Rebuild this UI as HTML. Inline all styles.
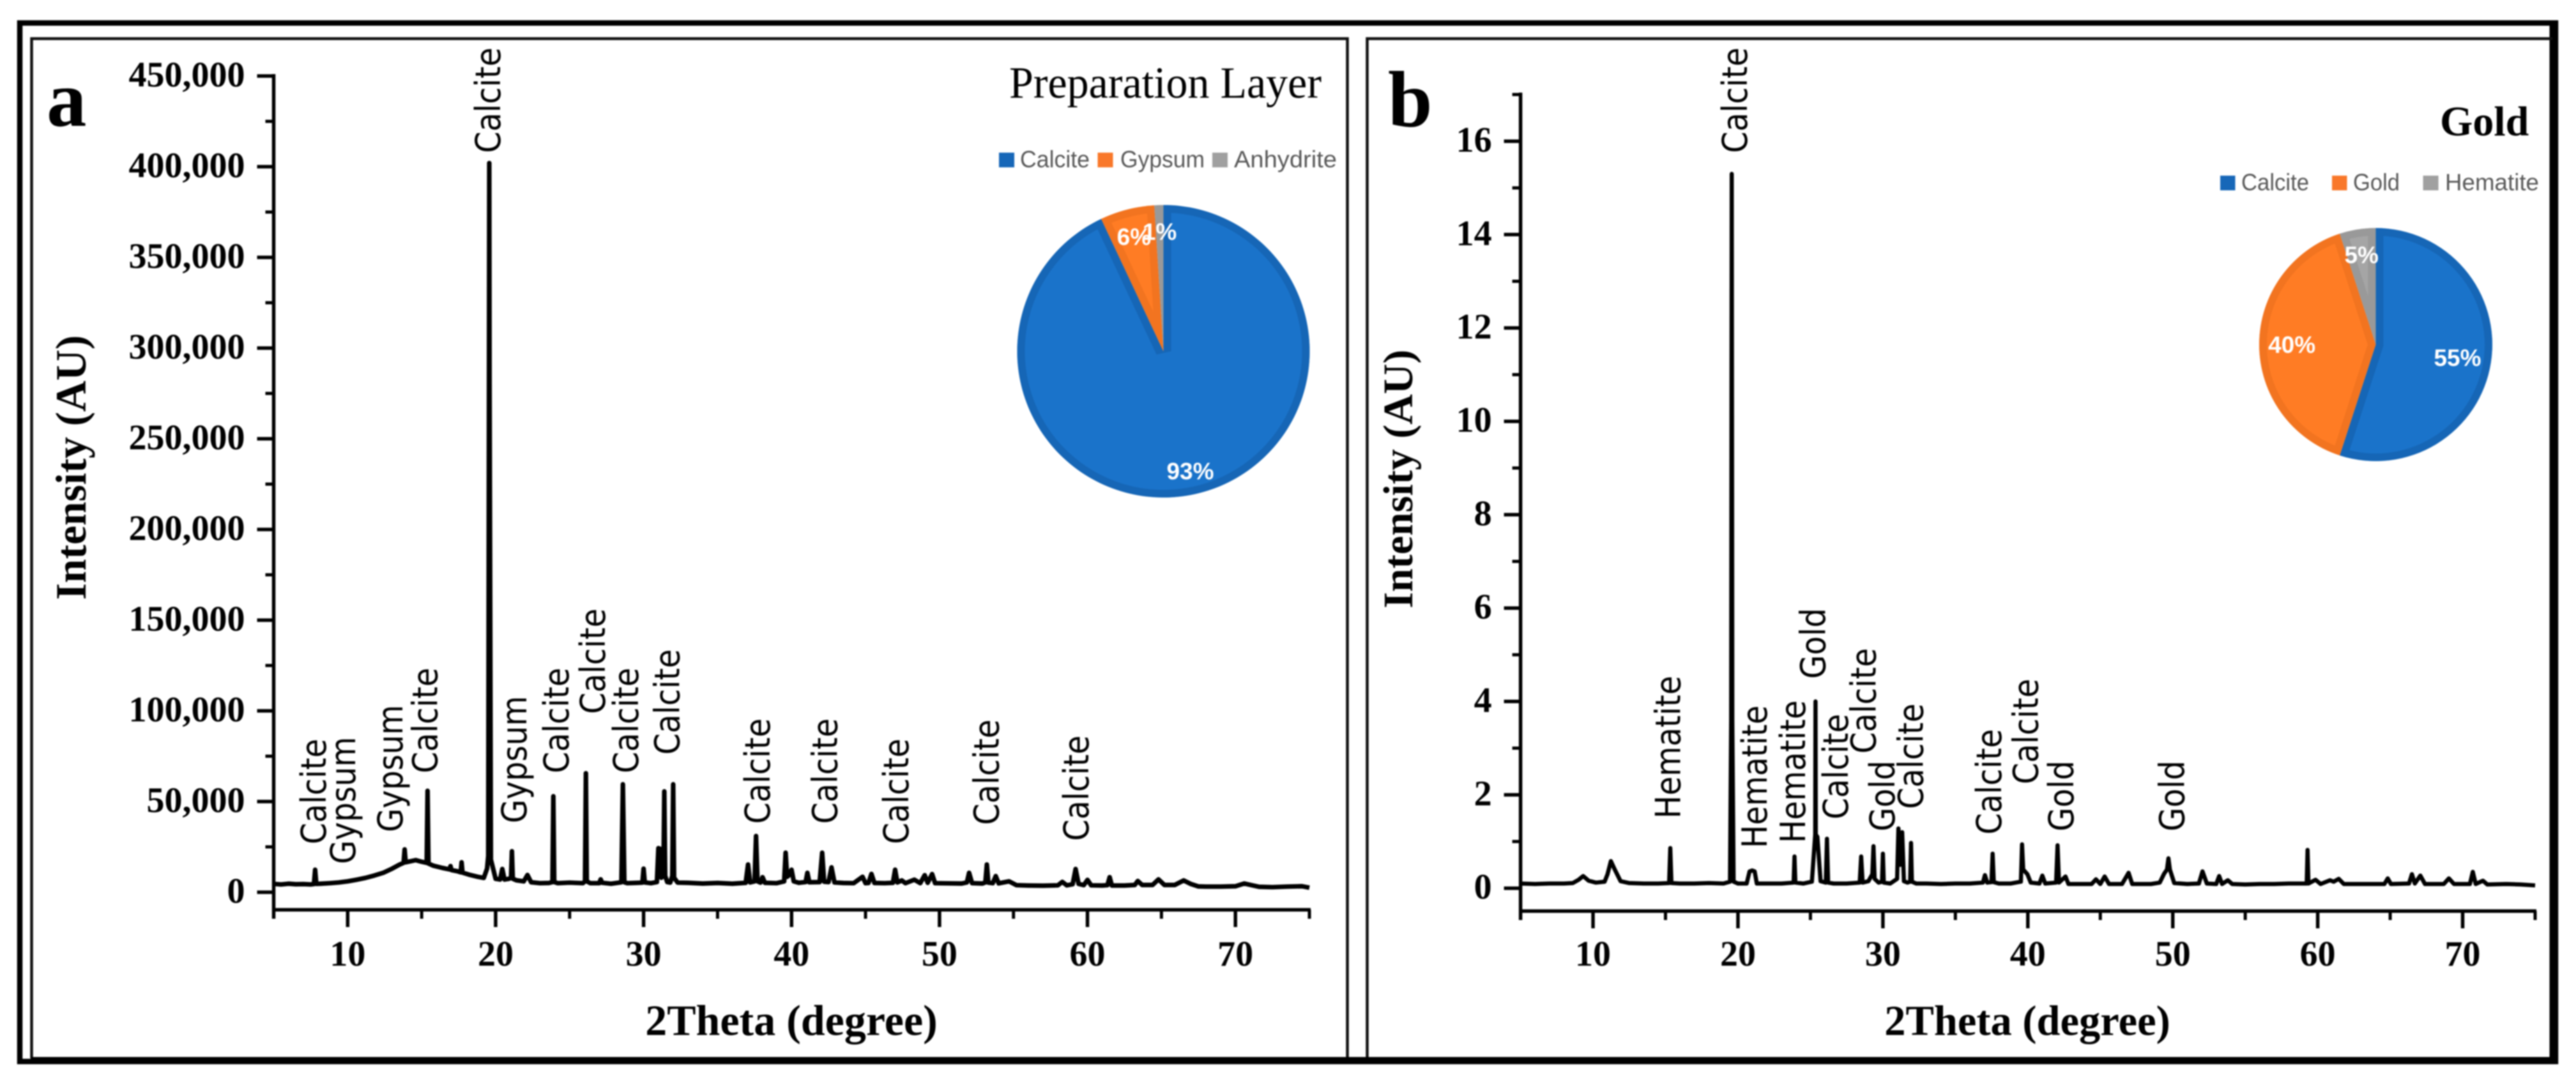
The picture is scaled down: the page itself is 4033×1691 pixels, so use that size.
<!DOCTYPE html>
<html lang="en">
<head>
<meta charset="utf-8">
<title>XRD patterns of preparation layer and gold</title>
<style>
html,body{margin:0;padding:0;background:#fff;width:4033px;height:1691px;overflow:hidden}
svg{display:block;filter:blur(1px)}
.serif{font-family:"Liberation Serif",serif;fill:#000}
.bold{font-weight:700}
.phase{font-family:"DejaVu Sans",sans-serif;font-size:48.3px;fill:#000}
.legend{font-family:"Liberation Sans",sans-serif;font-size:37px;fill:#595959}
.pct{font-family:"Liberation Sans",sans-serif;font-size:37px;font-weight:700;fill:#fff;text-anchor:middle}
.tick{font-family:"Liberation Serif",serif;font-weight:700;font-size:56px;fill:#000}
</style>
</head>
<body>
<svg id="figure" xmlns="http://www.w3.org/2000/svg" width="4033" height="1691" viewBox="0 0 4033 1691">
  <rect x="0" y="0" width="4033" height="1691" fill="#fff"/>
  <g>
    <rect x="31" y="36" width="3970" height="1626" fill="none" stroke="#000" stroke-width="8.5"/>
    <path d="M3996 36V1662" stroke="#000" stroke-width="9" fill="none"/>
    <path d="M49.5 1657V60.5H2109.5V1657" fill="none" stroke="#111" stroke-width="4.5"/>
    <path d="M2140.5 1657V60.5H3996" fill="none" stroke="#111" stroke-width="4.5"/>
    <rect x="48" y="1655" width="3950" height="8" fill="#000"/>
  </g>

  <g id="panel-a">
    <text class="serif bold" x="73" y="197" font-size="125">a</text>
    <text class="serif" x="1580" y="153" font-size="70.3" textLength="489" lengthAdjust="spacingAndGlyphs">Preparation Layer</text>
    <text class="serif bold" x="1239" y="1620.5" font-size="68" text-anchor="middle">2Theta (degree)</text>
    <text class="serif bold" transform="translate(134 732) rotate(-90)" font-size="67.5" text-anchor="middle">Intensity (AU)</text>
    <g id="axes-a"></g>
    <g id="series-a"></g>
    <g>
      <text class="phase" transform="translate(510 1322) rotate(-90) scale(1 1.12)">Calcite</text>
      <text class="phase" transform="translate(556 1353) rotate(-90) scale(1 1.12)">Gypsum</text>
      <text class="phase" transform="translate(630 1303) rotate(-90) scale(1 1.12)">Gypsum</text>
      <text class="phase" transform="translate(684.6 1210.7) rotate(-90) scale(1 1.12)">Calcite</text>
      <text class="phase" transform="translate(783 239.6) rotate(-90) scale(1 1.12)">Calcite</text>
      <text class="phase" transform="translate(824 1289) rotate(-90) scale(1 1.12)">Gypsum</text>
      <text class="phase" transform="translate(890 1210.7) rotate(-90) scale(1 1.12)">Calcite</text>
      <text class="phase" transform="translate(947 1118) rotate(-90) scale(1 1.12)">Calcite</text>
      <text class="phase" transform="translate(999 1210.7) rotate(-90) scale(1 1.12)">Calcite</text>
      <text class="phase" transform="translate(1063.7 1181.7) rotate(-90) scale(1 1.12)">Calcite</text>
      <text class="phase" transform="translate(1205 1290) rotate(-90) scale(1 1.12)">Calcite</text>
      <text class="phase" transform="translate(1310.5 1290) rotate(-90) scale(1 1.12)">Calcite</text>
      <text class="phase" transform="translate(1422 1321.7) rotate(-90) scale(1 1.12)">Calcite</text>
      <text class="phase" transform="translate(1563.6 1291.7) rotate(-90) scale(1 1.12)">Calcite</text>
      <text class="phase" transform="translate(1704 1316.7) rotate(-90) scale(1 1.12)">Calcite</text>
    </g>
    <g>
      <rect x="1564" y="239" width="24" height="23" fill="#1767B8"/>
      <text class="legend" x="1597" y="262" textLength="109" lengthAdjust="spacingAndGlyphs">Calcite</text>
      <rect x="1718.5" y="239" width="24" height="23" fill="#F9782A"/>
      <text class="legend" x="1754" y="262" textLength="132" lengthAdjust="spacingAndGlyphs">Gypsum</text>
      <rect x="1898" y="239" width="24" height="23" fill="#A0A0A0"/>
      <text class="legend" x="1932" y="262" textLength="161" lengthAdjust="spacingAndGlyphs">Anhydrite</text>
    </g>
    <g id="pie-a"></g>
  </g>

  <g id="panel-b">
    <text class="serif bold" x="2173" y="198" font-size="125">b</text>
    <text class="serif bold" x="3820" y="212" font-size="66">Gold</text>
    <text class="serif bold" x="3174" y="1620.5" font-size="66.5" text-anchor="middle">2Theta (degree)</text>
    <text class="serif bold" transform="translate(2211 750) rotate(-90)" font-size="66" text-anchor="middle">Intensity (AU)</text>
    <g id="axes-b"></g>
    <g id="series-b"></g>
    <g>
      <text class="phase" transform="translate(2630.6 1281.7) rotate(-90) scale(1 1.12)">Hematite</text>
      <text class="phase" transform="translate(2735 239.6) rotate(-90) scale(1 1.12)">Calcite</text>
      <text class="phase" transform="translate(2765.8 1328) rotate(-90) scale(1 1.12)">Hematite</text>
      <text class="phase" transform="translate(2826 1320) rotate(-90) scale(1 1.12)">Hematite</text>
      <text class="phase" transform="translate(2857.6 1063) rotate(-90) scale(1 1.12)">Gold</text>
      <text class="phase" transform="translate(2893 1283) rotate(-90) scale(1 1.12)">Calcite</text>
      <text class="phase" transform="translate(2936.7 1180) rotate(-90) scale(1 1.12)">Calcite</text>
      <text class="phase" transform="translate(2966 1301.7) rotate(-90) scale(1 1.12)">Gold</text>
      <text class="phase" transform="translate(3010.7 1266.7) rotate(-90) scale(1 1.12)">Calcite</text>
      <text class="phase" transform="translate(3133 1306.7) rotate(-90) scale(1 1.12)">Calcite</text>
      <text class="phase" transform="translate(3190.5 1228) rotate(-90) scale(1 1.12)">Calcite</text>
      <text class="phase" transform="translate(3245.8 1301.7) rotate(-90) scale(1 1.12)">Gold</text>
      <text class="phase" transform="translate(3419.6 1301.7) rotate(-90) scale(1 1.12)">Gold</text>
    </g>
    <g>
      <rect x="3476" y="275" width="23.5" height="23" fill="#1767B8"/>
      <text class="legend" x="3509" y="298" textLength="106" lengthAdjust="spacingAndGlyphs">Calcite</text>
      <rect x="3651" y="275" width="23.5" height="23" fill="#F9782A"/>
      <text class="legend" x="3684" y="298" textLength="73" lengthAdjust="spacingAndGlyphs">Gold</text>
      <rect x="3793.6" y="275" width="24" height="23" fill="#A0A0A0"/>
      <text class="legend" x="3828" y="298" textLength="147" lengthAdjust="spacingAndGlyphs">Hematite</text>
    </g>
    <g id="pie-b"></g>
  </g>
</svg>

<script>
// ---------- chart data ----------
const xMajorTicks = [10, 20, 30, 40, 50, 60, 70];
const xMinorTicks = [5, 15, 25, 35, 45, 55, 65, 75];
const xTickLabels = ['10', '20', '30', '40', '50', '60', '70'];

const yMajorTicksA = [0, 50000, 100000, 150000, 200000, 250000, 300000, 350000, 400000, 450000];
const yMinorTicksA = [25000, 75000, 125000, 175000, 225000, 275000, 325000, 375000, 425000];
const yTickLabelsA = ['0', '50,000', '100,000', '150,000', '200,000', '250,000', '300,000', '350,000', '400,000', '450,000'];

const yMajorTicksB = [0, 2, 4, 6, 8, 10, 12, 14, 16];
const yMinorTicksB = [1, 3, 5, 7, 9, 11, 13, 15, 17];
const yTickLabelsB = ['0', '2', '4', '6', '8', '10', '12', '14', '16'];

const thetaA = [
  5,5.5,6,6.5,7,7.5,7.72,7.8,7.88,8.2,
  8.8,9.4,10,10.6,11.2,11.8,12.4,13,13.5,13.78,
  13.85,13.92,14.2,14.6,15,15.34,15.4,15.46,15.8,16.4,
  16.88,16.95,17.02,17.4,17.64,17.7,17.76,18.2,18.8,19.2,
  19.42,19.5,19.55,19.57,19.59,19.68,20,20.3,20.45,20.6,
  20.9,21.04,21.1,21.16,21.4,21.9,22.15,22.4,23,23.6,
  23.84,23.9,23.96,24.2,25,25.9,26.04,26.1,26.16,26.4,
  27,27.1,27.2,27.8,28.5,28.6,28.7,28.9,29.6,29.92,
  30,30.08,30.5,30.9,31,31.1,31.2,31.34,31.4,31.46,
  31.6,31.8,31.94,32,32.06,32.3,33,34,35,36,
  36.9,37.06,37.2,37.5,37.6,37.7,37.9,38.04,38.2,39,
  39.5,39.6,39.7,39.85,40,40.15,40.5,40.95,41.07,41.2,
  41.9,42.07,42.2,42.5,42.7,42.9,43.5,44.2,44.8,45,
  45.2,45.4,45.6,46.3,46.85,47,47.15,47.45,47.7,48.3,
  48.7,49,49.2,49.5,49.7,50.5,51.5,51.85,52,52.2,
  52.9,53.1,53.2,53.3,53.6,53.8,54,54.7,55.2,56,
  57,58,58.3,58.6,59,59.2,59.4,59.75,60,60.25,
  61,61.35,61.5,61.65,62.5,63.2,63.4,63.7,64.4,64.8,
  65.2,65.9,66.5,67,67.5,68,69,70,70.6,71.2,
  71.6,72.5,73.5,74.5,75
];
const intensityA = [
  4600,4300,4700,4400,4500,4300,4500,12400,4600,4700,
  5000,5400,6000,6900,7900,9200,10700,13000,15200,16200,
  23600,16500,17000,17700,16800,16200,55900,15800,14600,13400,
  12600,14400,12200,11600,11000,16500,10800,9700,8500,7900,
  13000,20000,280000,402000,280000,18000,7400,7000,12800,7000,
  7400,8000,22600,7400,6600,6000,9500,5500,5000,5100,
  5600,52900,5600,5000,5300,5000,6000,65600,6000,5000,
  5000,7100,5200,4700,5500,59500,5500,5000,5200,5300,
  13000,5400,5000,5600,24300,24000,8000,9000,55600,9000,
  5600,5300,9000,59500,8000,5300,5200,4800,5100,4700,
  5200,15300,5400,6000,31000,6000,5300,8300,5200,5000,
  6000,21800,8500,9500,12400,6000,5200,5600,10700,5500,
  5600,21800,5800,5600,13700,5400,5100,5000,8500,5000,
  5100,10100,5100,5000,5200,12400,5400,6500,5000,6900,
  5000,9400,5200,10000,5000,4900,4800,5400,10700,5000,
  4800,5400,15300,5300,5000,8900,4900,6000,3900,3700,
  3600,3800,5700,3800,4400,12800,4600,3900,6800,3800,
  3700,3900,8300,3700,3700,4000,6200,4000,4000,7100,
  4000,4000,6500,4500,3200,3100,3100,3300,4800,3700,
  3000,2800,3100,3300,2500
];

const thetaB = [
  5,6,7,8,8.6,9,9.32,9.7,10.2,10.8,
  11,11.23,11.5,11.9,12.5,13.5,14.5,15.25,15.33,15.41,
  16,17,18,19,19.45,19.53,19.57,19.61,19.7,20,
  20.6,20.8,20.98,21.15,21.3,22,23,23.84,23.9,23.96,
  24.5,25.1,25.25,25.33,25.35,25.37,25.48,25.7,26.06,26.14,
  26.22,26.6,27.5,28.4,28.5,28.6,29,29.27,29.35,29.43,
  29.7,29.94,30,30.06,30.5,30.98,31.07,31.2,31.33,31.45,
  31.7,31.88,31.94,32,32.3,33,34,35,36,36.9,
  37.04,37.2,37.49,37.57,37.65,38,38.8,39.52,39.6,39.68,
  39.97,40.2,40.8,41,41.2,41.95,42.05,42.15,42.6,42.8,
  43.5,44.4,44.7,45,45.3,45.6,46.5,46.95,47.2,48.5,
  49.1,49.4,49.6,49.7,49.8,50.1,51,51.8,52.05,52.35,
  53,53.2,53.4,53.8,54.1,55,56,57,58,59,
  59.24,59.3,59.36,59.85,60.2,60.85,61.1,61.45,61.8,63,
  64.6,64.83,65.05,66.3,66.5,66.7,67.08,67.4,68.7,69.05,
  69.4,70.5,70.7,70.9,71.4,71.7,73,74,75
];
const intensityB = [
  .1,.09,.1,.1,.11,.18,.26,.16,.12,.14,
  .3,.58,.4,.15,.11,.1,.1,.11,.86,.11,
  .1,.1,.11,.1,.14,3.6,15.3,3.6,.14,.1,
  .1,.36,.38,.36,.1,.1,.1,.12,.68,.12,
  .1,.14,.8,1.15,4,1.15,1.1,.15,.12,1.06,
  .12,.1,.1,.12,.68,.12,.15,.3,.9,.2,
  .12,.14,.74,.12,.1,.2,1.28,.5,1.2,.15,
  .12,.14,.97,.14,.1,.1,.09,.1,.1,.12,
  .28,.12,.13,.74,.13,.1,.1,.14,.94,.4,
  .3,.12,.1,.27,.1,.12,.92,.12,.25,.09,
  .09,.09,.19,.09,.25,.09,.09,.33,.09,.09,
  .12,.31,.4,.64,.4,.11,.09,.1,.36,.1,
  .09,.26,.09,.17,.09,.08,.09,.09,.1,.1,
  .1,.82,.1,.18,.09,.17,.14,.2,.09,.09,
  .09,.21,.09,.1,.3,.1,.27,.09,.09,.21,
  .09,.09,.35,.09,.16,.08,.09,.08,.06
];

const pieValuesA = [93, 6, 1];
const pieNamesA = ['calcite', 'gypsum', 'anhydrite'];
const pieValuesB = [55, 40, 5];
const pieNamesB = ['calcite', 'gold', 'hematite'];

// ---------- helpers ----------
const SVG_NS = 'http://www.w3.org/2000/svg';
function mk(parent, tag, attrs, text) {
  const el = document.createElementNS(SVG_NS, tag);
  for (const k in attrs) el.setAttribute(k, attrs[k]);
  if (text !== undefined) el.textContent = text;
  parent.appendChild(el);
  return el;
}
function linear(d0, d1, r0, r1) {
  return function (v) { return r0 + (v - d0) * (r1 - r0) / (d1 - d0); };
}

function drawAxes(cfg) {
  const g = document.getElementById(cfg.axesId);
  const xs = cfg.x, ys = cfg.y;
  const axisX = xs(5), axisY = cfg.axisY;

  const spine = mk(g, 'line', {x1: axisX, x2: axisX, y1: ys(cfg.yTop) - 3, y2: axisY + 14, stroke: '#000', 'stroke-width': 5.5});
  
  

  const base = mk(g, 'line', {x1: axisX, x2: xs(75) + 2, y1: axisY, y2: axisY, stroke: '#000', 'stroke-width': 5.5});
  
  

  xMajorTicks.forEach(function (v, i) {
    const t = mk(g, 'line', {x1: xs(v), x2: xs(v), y1: axisY, y2: axisY + 27, stroke: '#000', 'stroke-width': 5.5});
    
    
    const l = mk(g, 'text', {x: xs(v), y: 1512, 'text-anchor': 'middle', class: 'tick'}, xTickLabels[i]);
    
    
  });
  xMinorTicks.forEach(function (v) {
    const t = mk(g, 'line', {x1: xs(v), x2: xs(v), y1: axisY, y2: axisY + 14, stroke: '#000', 'stroke-width': 5});
    
    
  });
  cfg.yMajor.forEach(function (v, i) {
    const t = mk(g, 'line', {x1: axisX - 26, x2: axisX, y1: ys(v), y2: ys(v), stroke: '#000', 'stroke-width': 5.5});
    
    
    const l = mk(g, 'text', {x: axisX - cfg.labelGap, y: ys(v) + 16.5, 'text-anchor': 'end', class: 'tick'}, cfg.yLabels[i]);
    
    
  });
  cfg.yMinor.forEach(function (v) {
    const t = mk(g, 'line', {x1: axisX - 13, x2: axisX, y1: ys(v), y2: ys(v), stroke: '#000', 'stroke-width': 5});
    
    
  });
}

function drawSeries(cfg) {
  const g = document.getElementById(cfg.seriesId);
  const d = cfg.theta.map(function (t, i) {
    return (i ? 'L' : 'M') + cfg.x(t).toFixed(2) + ' ' + cfg.y(cfg.values[i]).toFixed(2);
  }).join('');
  const line = mk(g, 'path', {d: d, fill: 'none', stroke: '#000', 'stroke-width': cfg.strokeWidth, 'stroke-linejoin': 'round', 'stroke-linecap': 'butt'});
  
  
}

const pieFill = ['#1A73CA', '#FF7C24', '#A5A5A5'];
const pieEdge = ['#1666B6', '#F27420', '#999999'];
function polar(c, angle) {
  const a = (angle - 90) * Math.PI / 180;
  return [c.cx + c.r * Math.cos(a), c.cy + c.r * Math.sin(a)];
}
function drawPie(cfg) {
  const g = document.getElementById(cfg.id);
  const total = cfg.values.reduce(function (s, v) { return s + v; }, 0);
  let angle = 0;
  const labels = [];
  cfg.values.forEach(function (v, i) {
    const sweep = v / total * 360;
    const p0 = polar(cfg, angle), p1 = polar(cfg, angle + sweep);
    const wedge = 'M' + cfg.cx + ' ' + cfg.cy + 'L' + p0[0].toFixed(2) + ' ' + p0[1].toFixed(2) +
      'A' + cfg.r + ' ' + cfg.r + ' 0 ' + (sweep > 180 ? 1 : 0) + ' 1 ' + p1[0].toFixed(2) + ' ' + p1[1].toFixed(2) + 'Z';
    const clipId = cfg.id + '-clip-' + i;
    const clip = mk(g, 'clipPath', {id: clipId});
    mk(clip, 'path', {d: wedge});
    const slice = mk(g, 'path', {d: wedge, fill: pieFill[i], stroke: pieEdge[i], 'stroke-width': 24, 'clip-path': 'url(#' + clipId + ')'});
    
    
    labels.push({mid: angle + sweep / 2, value: v, name: cfg.names[i]});
    angle += sweep;
  });
  labels.forEach(function (item, i) {
    const pos = polar({cx: cfg.cx, cy: cfg.cy, r: cfg.r * cfg.labelRadius[i]}, item.mid);
    const t = mk(g, 'text', {x: pos[0].toFixed(1), y: (pos[1] + 13).toFixed(1), class: 'pct'}, item.value + '%');
    
    
  });
}

// ---------- panel a ----------
const xA = linear(5, 75, 428.5, 2050);
const yA = linear(0, 450000, 1397, 119);
drawAxes({axesId: 'axes-a', x: xA, y: yA, yTop: 450000, axisY: 1424.5, yMajor: yMajorTicksA, yMinor: yMinorTicksA, yLabels: yTickLabelsA, labelGap: 45});
drawSeries({seriesId: 'series-a', x: xA, y: yA, theta: thetaA, values: intensityA, strokeWidth: 7.2});
drawPie({id: 'pie-a', cx: 1821.5, cy: 550, r: 229, values: pieValuesA, names: pieNamesA, labelRadius: [0.84, 0.81, 0.82]});

// ---------- panel b ----------
const xB = linear(5, 75, 2380.6, 3969);
const yB = linear(0, 17, 1390.7, 148);
drawAxes({axesId: 'axes-b', x: xB, y: yB, yTop: 17, axisY: 1426.5, yMajor: yMajorTicksB, yMinor: yMinorTicksB, yLabels: yTickLabelsB, labelGap: 45});
drawSeries({seriesId: 'series-b', x: xB, y: yB, theta: thetaB, values: intensityB, strokeWidth: 6.5});
drawPie({id: 'pie-b', cx: 3719.5, cy: 539.5, r: 182.5, values: pieValuesB, names: pieNamesB, labelRadius: [0.71, 0.72, 0.78]});
</script>
</body>
</html>
